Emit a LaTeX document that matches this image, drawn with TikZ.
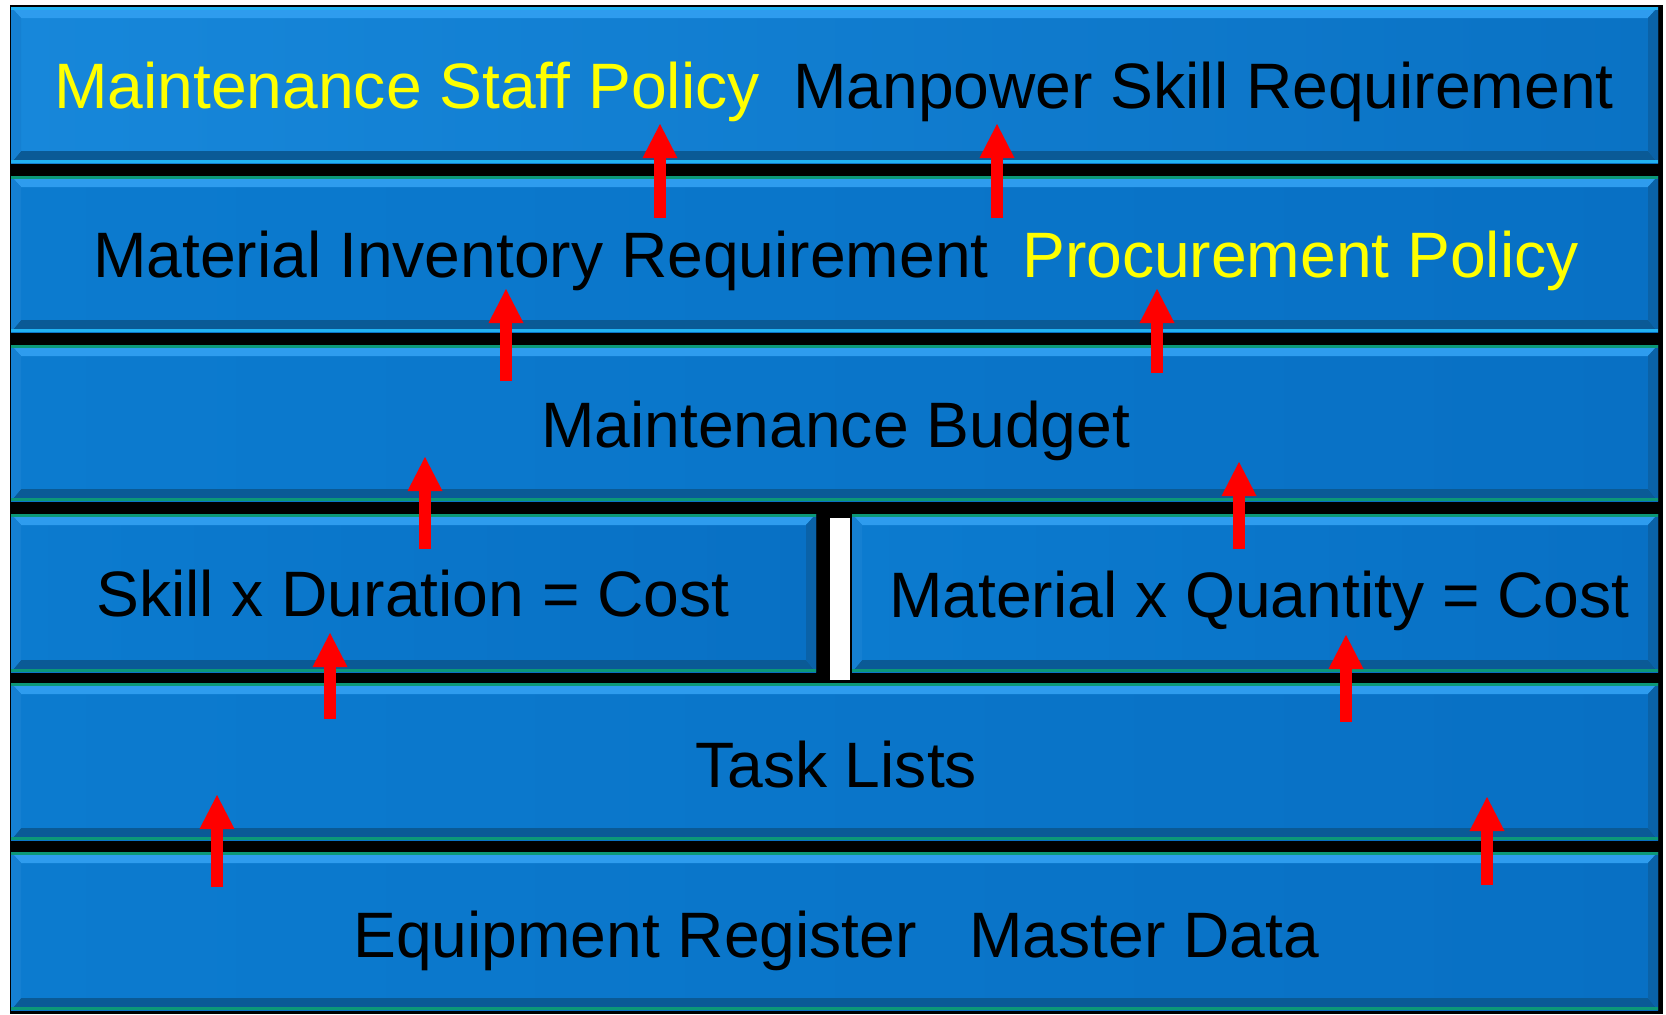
\documentclass[tikz,border=0pt]{standalone}
\usepackage{fontspec}
\setmainfont{Liberation Sans}
\usetikzlibrary{arrows.meta}
\definecolor{baseL}{HTML}{1787DA}
\definecolor{baseR}{HTML}{0A72C4}
\definecolor{baseL2}{HTML}{0C7BCF}
\definecolor{baseR2}{HTML}{0870C4}
\definecolor{bevTop}{HTML}{2E9CEE}
\definecolor{bevBot}{HTML}{0A5A96}
\definecolor{bevLeft}{HTML}{1580D2}
\definecolor{bevRight}{HTML}{0A62A8}
\definecolor{cyanline}{HTML}{22B2F2}
\definecolor{greenline}{HTML}{0C9878}
\definecolor{ylw}{HTML}{FFFF00}
\definecolor{arrowred}{HTML}{FF0000}
\newcommand{\layerbox}[8]{%
  \fill[left color=#7,right color=#8] (#1,#2) rectangle (#3,#4);
  \fill[bevTop] (#1,#2) -- (#3,#2) -- ({#3-10},{#2+11}) -- ({#1+10},{#2+11}) -- cycle;
  \fill[bevBot] (#1,#4) -- (#3,#4) -- ({#3-10},{#4-12}) -- ({#1+10},{#4-12}) -- cycle;
  \fill[bevLeft] (#1,#2) -- ({#1+10},{#2+11}) -- ({#1+10},{#4-12}) -- (#1,#4) -- cycle;
  \fill[bevRight] (#3,#2) -- ({#3-10},{#2+11}) -- ({#3-10},{#4-12}) -- (#3,#4) -- cycle;
  \fill[#5] (#1,#2) rectangle (#3,{#2+3});
  \fill[#6] (#1,{#4-3}) rectangle (#3,#4);
}
\tikzset{
  label/.style={anchor=base west,inner sep=0pt,font=\fontsize{64.2}{70}\selectfont},
  blk/.style={label,text=black},
  yel/.style={label,text=ylw},
  uparrow/.style={draw=arrowred,line width=12pt,-{Triangle[width=35pt,length=34pt,line width=0pt]}},
}
\begin{document}
\begin{tikzpicture}[x=1pt,y=-1pt]
\useasboundingbox (0,0) rectangle (1666,1015);
\fill[white] (0,0) rectangle (1666,1015);
\fill[black] (10,5) rectangle (1663,1014);
% rows
\layerbox{11}{7}{1658}{163}{cyanline}{cyanline}{baseL}{baseR}
\layerbox{11}{176}{1658}{332}{greenline}{cyanline}{baseL2}{baseR2}
\layerbox{11}{345}{1658}{501}{greenline}{greenline}{baseL2}{baseR2}
\layerbox{11}{514}{816}{672}{greenline}{greenline}{baseL2}{baseR2}
\layerbox{852}{514}{1658}{672}{greenline}{greenline}{baseL2}{baseR2}
\layerbox{11}{683}{1658}{840}{greenline}{greenline}{baseL2}{baseR2}
\layerbox{11}{852}{1658}{1010}{greenline}{greenline}{baseL2}{baseR2}
\fill[white] (830,518) rectangle (850,680);
% texts
\node[yel] (t1a) at (54,108) {Maintenance Staff Policy};
\node[blk] (t1b) at (793,108) {Manpower Skill Requirement};
\node[blk] (t2a) at (93,277) {Material Inventory Requirement};
\node[yel] (t2b) at (1022,277) {Procurement Policy};
\node[blk] (t3) at (541,447) {Maintenance Budget};
\node[blk] (t4a) at (96,616) {Skill x Duration = Cost};
\node[blk] (t4b) at (889,617) {Material x Quantity = Cost};
\node[blk] (t5) at (695,787) {Task Lists};
\node[blk] (t6a) at (353,957) {Equipment Register};
\node[blk] (t6b) at (969,957) {Master Data};
% arrows
\coordinate (a1s) at (660,218); \coordinate (a1t) at (660,124);
\coordinate (a2s) at (997,218); \coordinate (a2t) at (997,124);
\coordinate (a3s) at (506,381); \coordinate (a3t) at (506,289);
\coordinate (a4s) at (1157,373); \coordinate (a4t) at (1157,289);
\coordinate (a5s) at (425,549); \coordinate (a5t) at (425,457);
\coordinate (a6s) at (1239,549); \coordinate (a6t) at (1239,462);
\coordinate (a7s) at (330,719); \coordinate (a7t) at (330,633);
\coordinate (a8s) at (1346,722); \coordinate (a8t) at (1346,635);
\coordinate (a9s) at (217,887); \coordinate (a9t) at (217,795);
\coordinate (a10s) at (1487,885); \coordinate (a10t) at (1487,797);
\foreach \i in {1,...,10} {\draw[uparrow] (a\i s) -- (a\i t);}
\end{tikzpicture}
\end{document}
